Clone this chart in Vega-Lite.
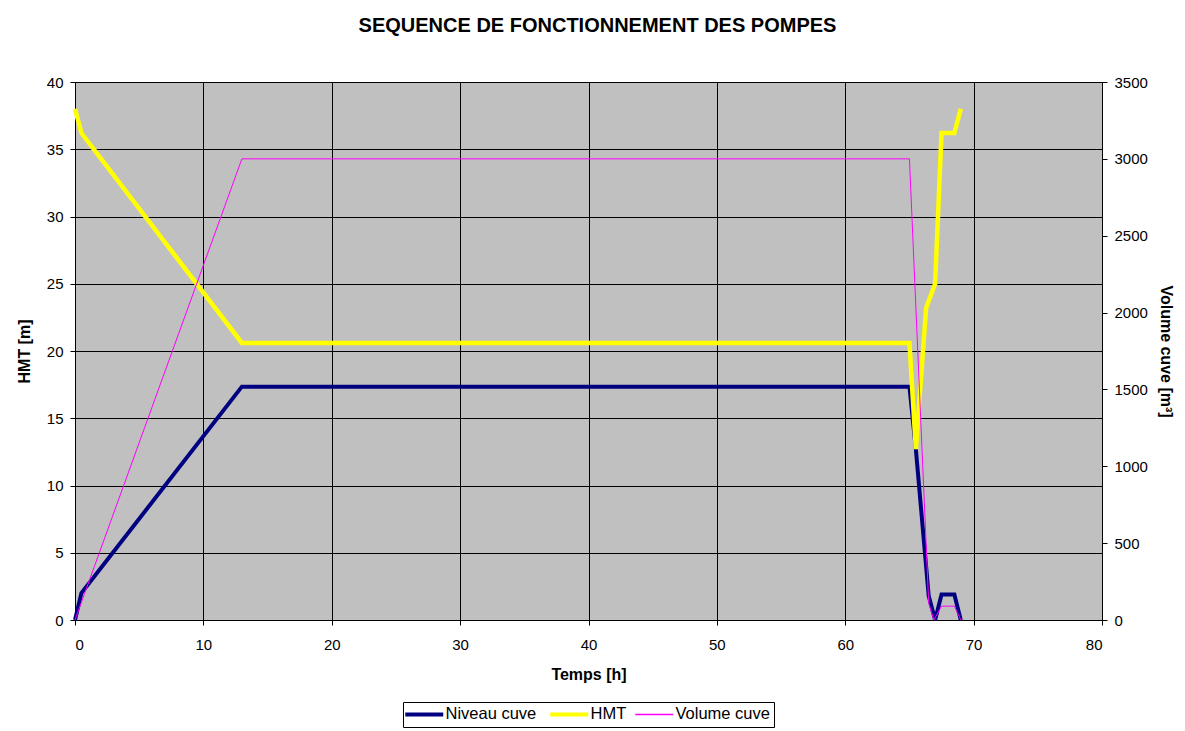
{
  "$schema": "https://vega.github.io/schema/vega-lite/v6.json",
  "width": 1027,
  "height": 538,
  "autosize": {"type": "none"},
  "padding": {"left": 75, "top": 82, "right": 83, "bottom": 111},
  "background": "white",
  "config": {
    "font": "Liberation Sans",
    "view": {"fill": "#C0C0C0", "stroke": "#808080", "strokeWidth": 1}
  },
  "title": {
    "text": "SEQUENCE DE FONCTIONNEMENT DES POMPES",
    "fontSize": 20,
    "fontWeight": "bold",
    "color": "black",
    "anchor": "middle",
    "offset": 39,
    "dx": 9
  },
  "data": {
    "values": [
      {"t": 0, "serie": "Niveau cuve", "v": 0},
      {"t": 0.5, "serie": "Niveau cuve", "v": 2.0},
      {"t": 13, "serie": "Niveau cuve", "v": 17.35},
      {"t": 65, "serie": "Niveau cuve", "v": 17.35},
      {"t": 65.5, "serie": "Niveau cuve", "v": 12.7},
      {"t": 66.5, "serie": "Niveau cuve", "v": 1.8},
      {"t": 67, "serie": "Niveau cuve", "v": 0},
      {"t": 67.5, "serie": "Niveau cuve", "v": 1.9},
      {"t": 68.5, "serie": "Niveau cuve", "v": 1.9},
      {"t": 69, "serie": "Niveau cuve", "v": 0},
      {"t": 0, "serie": "HMT", "v": 38},
      {"t": 0.5, "serie": "HMT", "v": 36.2},
      {"t": 13, "serie": "HMT", "v": 20.6},
      {"t": 65, "serie": "HMT", "v": 20.6},
      {"t": 65.5, "serie": "HMT", "v": 12.7},
      {"t": 66.3, "serie": "HMT", "v": 23.2},
      {"t": 67, "serie": "HMT", "v": 25},
      {"t": 67.5, "serie": "HMT", "v": 36.2},
      {"t": 68.5, "serie": "HMT", "v": 36.2},
      {"t": 69, "serie": "HMT", "v": 38},
      {"t": 0, "serie": "Volume cuve", "v": 0},
      {"t": 13, "serie": "Volume cuve", "v": 3000},
      {"t": 65, "serie": "Volume cuve", "v": 3000},
      {"t": 66.5, "serie": "Volume cuve", "v": 110},
      {"t": 66.9, "serie": "Volume cuve", "v": 0},
      {"t": 67.5, "serie": "Volume cuve", "v": 90},
      {"t": 68.5, "serie": "Volume cuve", "v": 90},
      {"t": 69, "serie": "Volume cuve", "v": 0}
    ]
  },
  "encoding": {
    "x": {
      "field": "t",
      "type": "quantitative",
      "title": "Temps [h]",
      "scale": {"domain": [0, 80], "nice": false},
      "axis": {
        "values": [0, 10, 20, 30, 40, 50, 60, 70, 80],
        "grid": true,
        "gridColor": "black",
        "gridWidth": 1,
        "gridOpacity": 1,
        "domainColor": "black",
        "tickColor": "black",
        "tickSize": 5,
        "labelFontSize": 15,
        "labelColor": "black",
        "labelPadding": 12,
        "titleFontSize": 16,
        "titleFontWeight": "bold",
        "titleColor": "black",
        "titlePadding": 14
      }
    },
    "color": {
      "field": "serie",
      "type": "nominal",
      "scale": {
        "domain": ["Niveau cuve", "HMT", "Volume cuve"],
        "range": ["#000080", "#FFFF00", "#FF00FF"]
      },
      "legend": {
        "orient": "none",
        "legendX": 328,
        "legendY": 620,
        "direction": "horizontal",
        "title": null,
        "symbolType": "M-1,0H1",
        "symbolSize": 1444,
        "symbolStrokeWidth": 4,
        "symbolOffset": 9,
        "labelFontSize": 16.5,
        "labelColor": "black",
        "labelOffset": 13,
        "columnPadding": 5,
        "strokeColor": "black",
        "fillColor": "white",
        "padding": 4,
        "encode": {
          "symbols": {
            "update": {
              "strokeWidth": {"signal": "datum.value == 'Volume cuve' ? 1.5 : 4"}
            }
          }
        }
      }
    }
  },
  "layer": [
    {
      "transform": [{"filter": "datum.serie == 'Niveau cuve'"}],
      "mark": {"type": "line", "strokeWidth": 4, "strokeJoin": "miter"},
      "encoding": {
        "y": {
          "field": "v",
          "type": "quantitative",
          "title": "HMT [m]",
          "scale": {"domain": [0, 40], "nice": false},
          "axis": {
            "values": [0, 5, 10, 15, 20, 25, 30, 35, 40],
            "grid": true,
            "gridColor": "black",
            "gridWidth": 1,
            "gridOpacity": 1,
            "domainColor": "black",
            "tickColor": "black",
            "tickSize": 5,
            "labelFontSize": 15,
            "labelColor": "black",
            "labelPadding": 7,
            "titleFontSize": 16,
            "titleFontWeight": "bold",
            "titleColor": "black",
            "titlePadding": 14
          }
        }
      }
    },
    {
      "transform": [{"filter": "datum.serie == 'HMT'"}],
      "mark": {"type": "line", "strokeWidth": 4.5, "strokeJoin": "miter"},
      "encoding": {
        "y": {
          "field": "v",
          "type": "quantitative",
          "scale": {"domain": [0, 40], "nice": false},
          "axis": null
        }
      }
    },
    {
      "transform": [{"filter": "datum.serie == 'Volume cuve'"}],
      "mark": {"type": "line", "strokeWidth": 1},
      "encoding": {
        "y": {
          "field": "v",
          "type": "quantitative",
          "title": "Volume cuve [m³]",
          "scale": {"domain": [0, 3500], "nice": false},
          "axis": {
            "orient": "right",
            "values": [0, 500, 1000, 1500, 2000, 2500, 3000, 3500],
            "format": "d",
            "grid": false,
            "domainColor": "black",
            "tickColor": "black",
            "tickSize": 5,
            "labelFontSize": 15,
            "labelColor": "black",
            "labelPadding": 7,
            "titleFontSize": 16,
            "titleFontWeight": "bold",
            "titleColor": "black",
            "titlePadding": 10
          }
        }
      }
    }
  ],
  "resolve": {"scale": {"y": "independent"}}
}
